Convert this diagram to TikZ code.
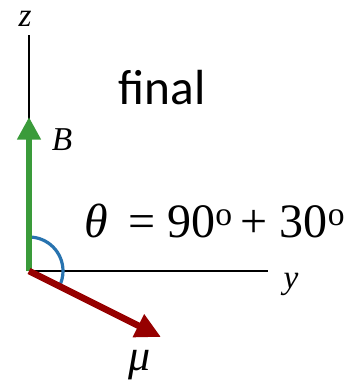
\documentclass[tikz,border=0pt]{standalone}
\usepackage{fontspec}
\setmainfont{Liberation Serif}
\newfontfamily\calfont{Carlito}
\usetikzlibrary{arrows.meta, calc}
\definecolor{vetB}{RGB}{58,155,58}
\definecolor{vetMu}{RGB}{150,0,0}
\definecolor{arco}{RGB}{40,115,175}
\tikzset{
  eixo/.style={line width=1.1pt},
  rotulo/.style={font=\fontsize{25}{25}\selectfont\itshape, inner sep=0pt},
}

\begin{document}
\begin{tikzpicture}[x=0.75pt, y=-0.75pt]
            \useasboundingbox (0,0) rectangle (349,381);

            % pontos dos eixos
            \coordinate (O) at (29,271);
            \coordinate (zfim) at (29,35);
            \coordinate (yfim) at (268,271);
            \coordinate (Bfim) at (29,117);
            \coordinate (mufim) at (161,337);

            % eixos
            \draw[eixo] (O) -- (zfim);
            \draw[eixo] (O) -- (yfim);

            % rótulos dos eixos
            \node[rotulo] (z) at (25,19) {z};
            \node[rotulo] (y) at (291,284) {y};

            % arco do ângulo
            \draw[arco, line width=2.4pt] ($(O)+(0,-34)$) arc[start angle=90, end angle=-27, radius=25.5pt];

            % vetores
            \draw[vetB, line width=4.5pt, -{Triangle[length=17pt, width=17pt]}] (O) -- (Bfim);
            \draw[vetMu, line width=5pt, -{Triangle[length=19pt, width=18pt]}] (O) -- (mufim);
            \node[rotulo] (B) at (62,140) {B};
            \node[rotulo, font=\fontsize{33}{33}\selectfont\itshape] (mu) at (140,365) {μ};

            % textos
            \node[font=\calfont\fontsize{37}{37}\selectfont, inner sep=0pt] (final) at (162,88) {final};
            \node[font=\fontsize{36}{36}\selectfont, inner sep=0pt] (theta) at (215,221)
                {\textit{θ}\, = 90\textsuperscript{o}\,+ 30\textsuperscript{o}};
        \end{tikzpicture}
\end{document}
